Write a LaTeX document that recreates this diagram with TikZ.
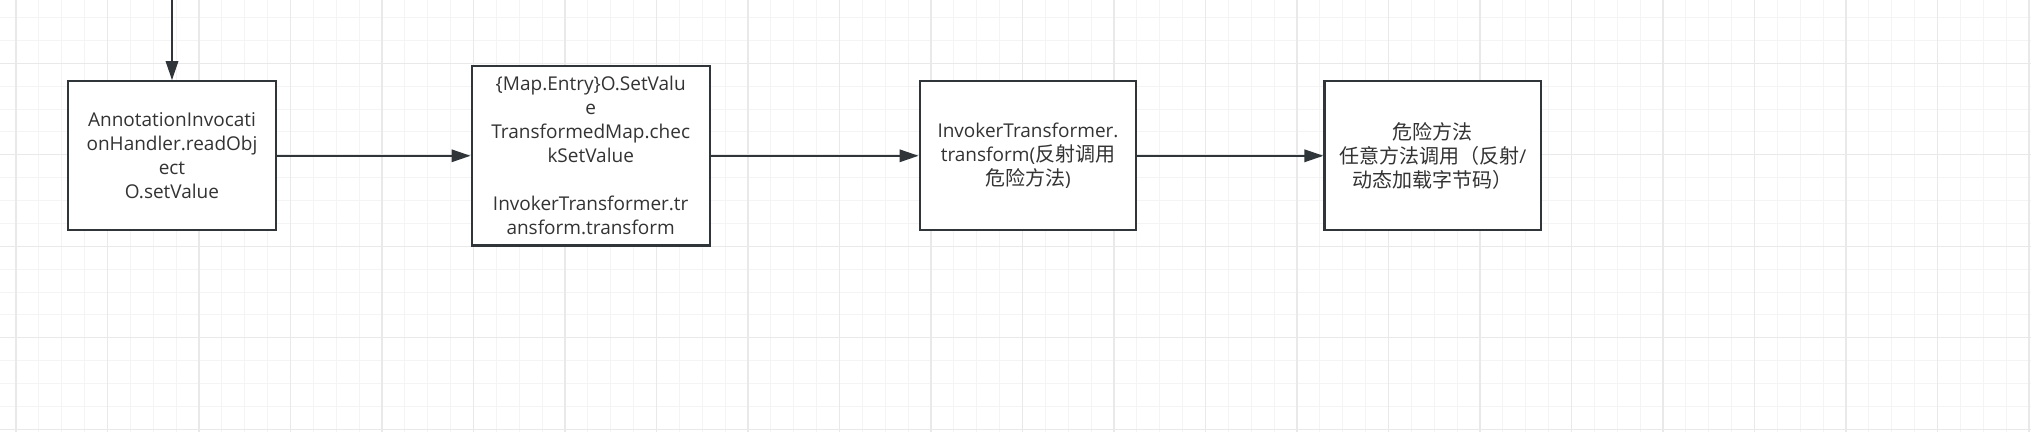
\documentclass[tikz,border=0pt]{standalone}
\usepackage{fontspec}
\setmainfont{Open Sans}[Scale=0.95]
\newfontfamily\cjk{Noto Sans CJK SC}
\usetikzlibrary{arrows.meta}

\definecolor{boxline}{HTML}{30353A}
\definecolor{boxtext}{HTML}{333333}
\definecolor{gridlight}{HTML}{F4F4F4}
\definecolor{griddark}{HTML}{E9E9E9}

\begin{document}
\begin{tikzpicture}[x=0.5pt, y=-0.5pt,
    every node/.style={font=\fontsize{10pt}{12pt}\selectfont, text=boxtext},
    callbox/.style={draw=boxline, line width=1.15pt, fill=white, align=center,
                    inner sep=0pt, minimum height=74.5pt},
    callarrow/.style={draw=boxline, line width=1pt,
                      -{Triangle[length=9.5pt, width=6.2pt]}},
    gridminor/.style={gridlight, line width=0.5pt},
    gridmajor/.style={griddark, line width=0.6pt}]
    \useasboundingbox (0,0) rectangle (2031,432);
    \clip (0,0) rectangle (2031,432);
    \fill[white] (0,0) rectangle (2031,432);

    % --- Grid ---
    \foreach \k in {-1,...,88}
        \draw[gridminor] ({16+22.875*\k},0) -- ++(0,432);
    \foreach \k in {-3,...,16}
        \draw[gridminor] (0,{63.3+22.875*\k}) -- ++(2031,0);
    \foreach \k in {0,...,22}
        \draw[gridmajor] ({16+91.5*\k},0) -- ++(0,432);
    \foreach \k in {-1,...,4}
        \draw[gridmajor] (0,{63.3+91.5*\k}) -- ++(2031,0);

    % --- Call chain ---
    \node[callbox, minimum width=104.3pt] (readobj) at (172,155.8)
        {AnnotationInvocati\\onHandler.readObj\\ect\\O.setValue};
    \node[callbox, minimum width=119pt, minimum height=89.8pt] (setvalue) at (590.7,155.8)
        {\{Map.Entry\}O.SetValu\\e\\TransformedMap.chec\\kSetValue\\[12pt]InvokerTransformer.tr\\ansform.transform};
    \node[callbox, minimum width=108.3pt] (invoker) at (1028,155.8)
        {InvokerTransformer.\\transform({\cjk 反射调用}\\{\cjk 危险方法})};
    \node[callbox, minimum width=108.2pt] (danger) at (1432.8,155.8)
        {{\cjk 危险方法}\\{\cjk 任意方法调用（反射}/\\{\cjk 动态加载字节码）}};

    % 入口箭头 (从上方进入)
    \coordinate (entry) at (172,-5);
    \draw[callarrow] (entry) -- (readobj);

    \draw[callarrow] (readobj) -- (setvalue);
    \draw[callarrow] (setvalue) -- (invoker);
    \draw[callarrow] (invoker) -- (danger);
\end{tikzpicture}
\end{document}
